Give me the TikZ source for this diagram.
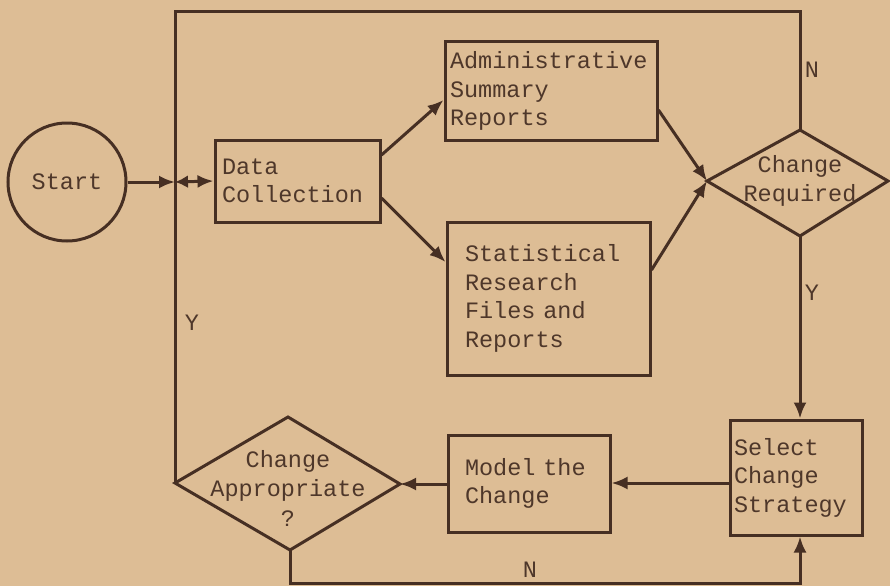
\documentclass[tikz,border=0pt]{standalone}
\usepackage{fontspec}
\setmonofont{Liberation Mono}
\usetikzlibrary{arrows.meta}
\definecolor{paper}{RGB}{221,189,149}
\definecolor{ink}{RGB}{70,47,35}
\definecolor{txt}{RGB}{78,55,42}
\begin{document}
\begin{tikzpicture}[x=1pt,y=-1pt,
  line width=3pt, draw=ink,
  every node/.style={text=txt, font=\ttfamily\fontsize{23.5}{28.5}\selectfont},
  box/.style={draw=ink, rectangle, align=left, inner ysep=0pt},
  lbl/.style={inner sep=0pt},
  arr/.style={-{Latex[length=16pt,width=13pt]}},
  barr/.style={{Latex[length=13pt,width=13pt]}-{Latex[length=16pt,width=13pt]}}]
\fill[paper] (0,0) rectangle (890,586);
\useasboundingbox (0,0) rectangle (890,586);
% start
\node[draw=ink, circle, minimum size=118pt, inner sep=0pt] (start) at (67,182) {Start};
% boxes
\node[box, minimum width=165pt, minimum height=82pt, text width=151pt, inner xsep=7pt] (data) at (297.5,181) {Data\\Collection};
\node[box, minimum width=212pt, minimum height=98pt, text width=202pt, inner xsep=5pt] (admin) at (551,91) {Administrative\\Summary\\Reports};
\node[box, minimum width=203pt, minimum height=153pt, text width=167pt, inner xsep=18pt] (stat) at (548.5,298.5) {Statistical\\Research\\Files and\\Reports};
\node[box, minimum width=162pt, minimum height=97pt, text width=128pt, inner xsep=17pt] (model) at (529,483.5) {Model the\\Change};
\node[box, minimum width=132pt, minimum height=115pt, text width=124pt, inner xsep=4pt] (select) at (796,477.5) {Select\\Change\\Strategy};
% diamond: change required
\coordinate (crL) at (707,181);
\coordinate (crT) at (800,130);
\coordinate (crR) at (888,181);
\coordinate (crB) at (800,236);
\draw[ink] (crL) -- (crT) -- (crR) -- (crB) -- cycle;
\node[align=center, lbl] (crtext) at (800,181) {Change\\Required};
% diamond: change appropriate
\coordinate (caL) at (175,483);
\coordinate (caT) at (288,417);
\coordinate (caR) at (400,484);
\coordinate (caB) at (290,550);
\draw[ink] (caL) -- (caT) -- (caR) -- (caB) -- cycle;
\node[align=center, lbl] (catext) at (288,476) {Change\\Appropriate};
\node[lbl] (caq) at (288,519) {?};
% junction and routing points
\coordinate (junc) at (175,182);
\coordinate (topL) at (175,12);
\coordinate (topR) at (800,12);
\coordinate (botL) at (290,583);
\coordinate (botR) at (800,583);
% connectors
\draw[arr] (start.east) -- (junc);
\draw[barr] (junc) -- (data.west);
\draw (caL) -- (topL) -- (topR) -- (crT);
\draw[arr] (data.east |- 0,155) -- (admin.west |- 0,100);
\draw[arr] (data.east |- 0,198) -- (stat.west |- 0,262);
\draw[arr] (admin.east |- 0,110) -- (crL);
\draw[arr] (stat.east |- 0,270) -- (crL);
\draw[arr] (crB) -- (crB |- select.north);
\draw[arr] (select.west |- 0,483) -- (model.east |- 0,483);
\draw[arr] (model.west |- 0,484) -- (caR);
\draw[arr] (caB) -- (botL) -- (botR) -- (botR |- select.south);
% labels
\node[lbl] (nTop) at (812,70) {N};
\node[lbl] (yRight) at (812,293) {Y};
\node[lbl] (yLeft) at (192,323) {Y};
\node[lbl] (nBot) at (530,570) {N};
\end{tikzpicture}
\end{document}
